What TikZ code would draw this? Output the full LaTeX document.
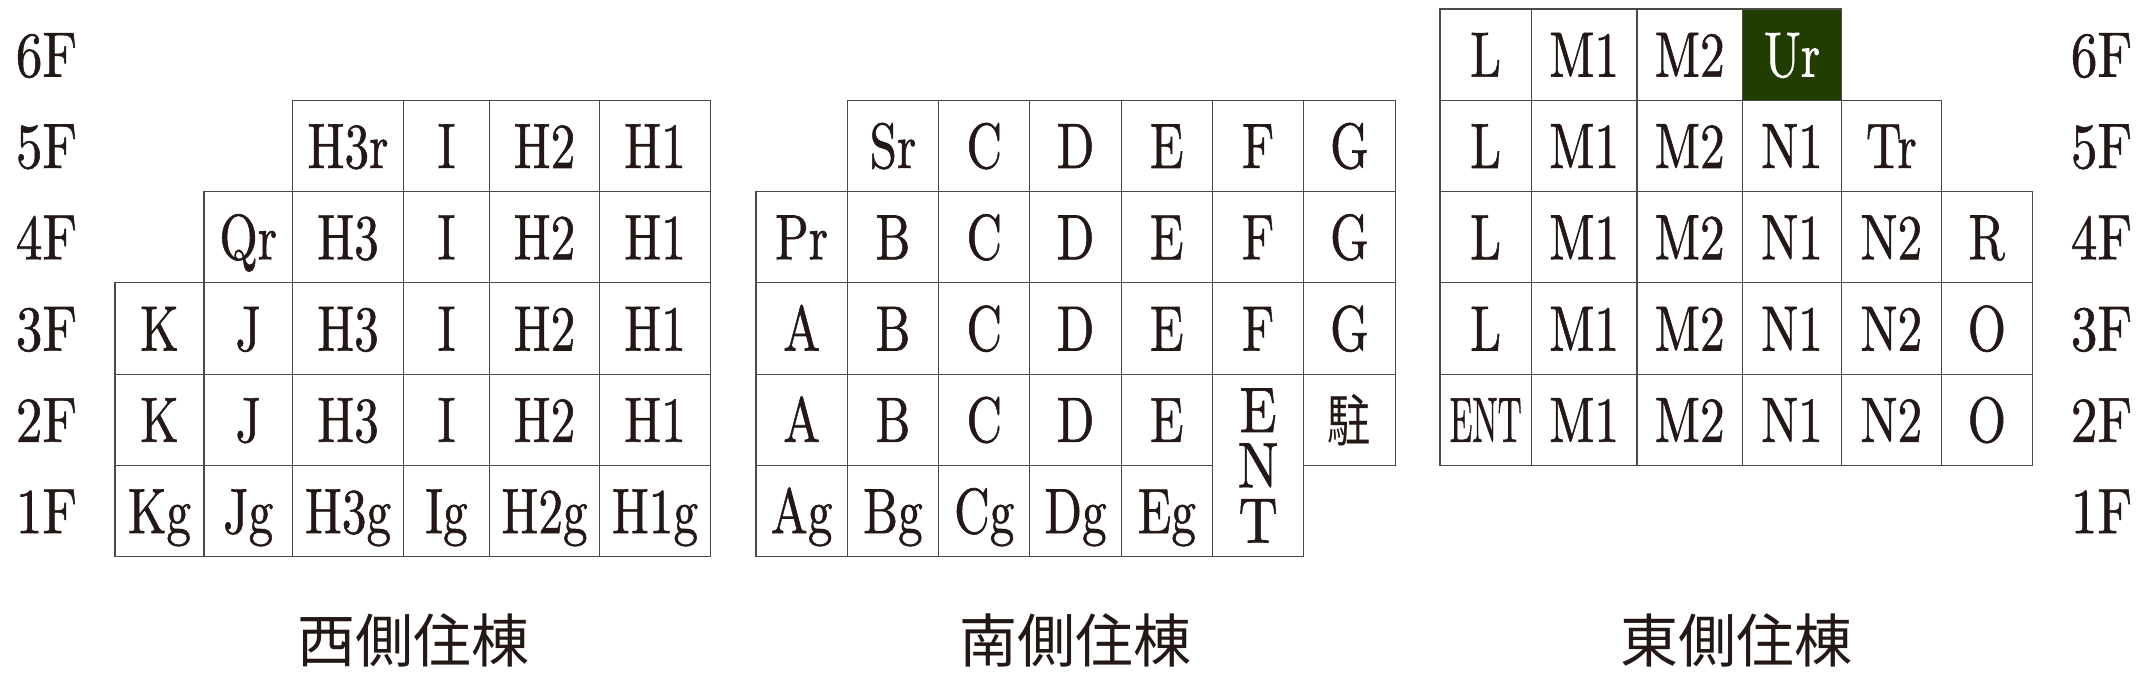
\documentclass[tikz,border=0pt]{standalone}
\usepackage{fontspec}
\newfontfamily\cjk{Noto Sans CJK JP}
\newfontfamily\cellfont{lmroman10-regular.otf}[FakeBold=1]
\usepackage{graphicx}
\definecolor{txt}{HTML}{231815}
\definecolor{linec}{HTML}{4A4A4A}
\definecolor{ugreen}{HTML}{223D00}
\tikzset{
 cellbox/.style={draw=linec, line width=0.55pt, rectangle, inner sep=0pt, minimum height=45.65pt, text height=30pt, text depth=8pt, text=txt, font=\cellfont\fontsize{32}{38}\selectfont},
 flabel/.style={inner sep=0pt, text height=30pt, text depth=8pt, text=txt, font=\cellfont\fontsize{32}{38}\selectfont},
 vlet/.style={inner sep=0pt, text=txt, font=\cellfont\fontsize{32}{38}\selectfont},
 ttl/.style={inner sep=0pt, text=txt, font=\cjk\fontsize{29}{32}\selectfont},
}
% #1 opts, #2 name, #3 x1, #4 x2, #5 ytop, #6 text
\newcommand\mycell[6][]{\node[cellbox,minimum width={(#4-#3)*0.5pt},#1] (#2) at ({(#3+#4)/2},{#5+45.65}) {\scalebox{0.77}[1]{#6}};}
\newcommand\vl[1]{\hbox to 26pt{\hss\scalebox{0.85}[1]{#1}\hss}}
\begin{document}
\begin{tikzpicture}[x=0.5pt,y=-0.5pt]
\useasboundingbox (0,0) rectangle (2148,676);
% ---------- West ----------
\mycell{w5a}{292.5}{403.5}{100.3}{H3r}
\mycell{w5b}{403.5}{489.5}{100.3}{I}
\mycell{w5c}{489.5}{599.5}{100.3}{H2}
\mycell{w5d}{599.5}{710.5}{100.3}{H1}
\mycell{w4q}{204}{292.5}{191.6}{Qr}
\mycell{w4a}{292.5}{403.5}{191.6}{H3}
\mycell{w4b}{403.5}{489.5}{191.6}{I}
\mycell{w4c}{489.5}{599.5}{191.6}{H2}
\mycell{w4d}{599.5}{710.5}{191.6}{H1}
\mycell{w3k}{115}{204}{282.9}{K}
\mycell{w3j}{204}{292.5}{282.9}{J}
\mycell{w3a}{292.5}{403.5}{282.9}{H3}
\mycell{w3b}{403.5}{489.5}{282.9}{I}
\mycell{w3c}{489.5}{599.5}{282.9}{H2}
\mycell{w3d}{599.5}{710.5}{282.9}{H1}
\mycell{w2k}{115}{204}{374.2}{K}
\mycell{w2j}{204}{292.5}{374.2}{J}
\mycell{w2a}{292.5}{403.5}{374.2}{H3}
\mycell{w2b}{403.5}{489.5}{374.2}{I}
\mycell{w2c}{489.5}{599.5}{374.2}{H2}
\mycell{w2d}{599.5}{710.5}{374.2}{H1}
\mycell{w1k}{115}{204}{465.5}{Kg}
\mycell{w1j}{204}{292.5}{465.5}{Jg}
\mycell{w1a}{292.5}{403.5}{465.5}{H3g}
\mycell{w1b}{403.5}{489.5}{465.5}{Ig}
\mycell{w1c}{489.5}{599.5}{465.5}{H2g}
\mycell{w1d}{599.5}{710.5}{465.5}{H1g}
% ---------- South ----------
\mycell{s5s}{847.3}{938.6}{100.3}{Sr}
\mycell{s5c}{938.6}{1029.9}{100.3}{C}
\mycell{s5d}{1029.9}{1121.2}{100.3}{D}
\mycell{s5e}{1121.2}{1212.5}{100.3}{E}
\mycell{s5f}{1212.5}{1303.8}{100.3}{F}
\mycell{s5g}{1303.8}{1395.1}{100.3}{G}
\mycell{s4p}{756}{847.3}{191.6}{Pr}
\mycell{s4b}{847.3}{938.6}{191.6}{B}
\mycell{s4c}{938.6}{1029.9}{191.6}{C}
\mycell{s4d}{1029.9}{1121.2}{191.6}{D}
\mycell{s4e}{1121.2}{1212.5}{191.6}{E}
\mycell{s4f}{1212.5}{1303.8}{191.6}{F}
\mycell{s4g}{1303.8}{1395.1}{191.6}{G}
\mycell{s3a}{756}{847.3}{282.9}{A}
\mycell{s3b}{847.3}{938.6}{282.9}{B}
\mycell{s3c}{938.6}{1029.9}{282.9}{C}
\mycell{s3d}{1029.9}{1121.2}{282.9}{D}
\mycell{s3e}{1121.2}{1212.5}{282.9}{E}
\mycell{s3f}{1212.5}{1303.8}{282.9}{F}
\mycell{s3g}{1303.8}{1395.1}{282.9}{G}
\mycell{s2a}{756}{847.3}{374.2}{A}
\mycell{s2b}{847.3}{938.6}{374.2}{B}
\mycell{s2c}{938.6}{1029.9}{374.2}{C}
\mycell{s2d}{1029.9}{1121.2}{374.2}{D}
\mycell{s2e}{1121.2}{1212.5}{374.2}{E}
\mycell{s2p}{1303.8}{1395.1}{374.2}{\cjk\fontsize{28}{30}\selectfont 駐}
\mycell{s1a}{756}{847.3}{465.5}{Ag}
\mycell{s1b}{847.3}{938.6}{465.5}{Bg}
\mycell{s1c}{938.6}{1029.9}{465.5}{Cg}
\mycell{s1d}{1029.9}{1121.2}{465.5}{Dg}
\mycell{s1e}{1121.2}{1212.5}{465.5}{Eg}
\node[cellbox,minimum width=45.65pt,minimum height=91.3pt] (sENT) at (1258.15,465.5) {};
\node[vlet] (sENTt) at (sENT.center) {\vbox{\baselineskip=27.65pt\lineskiplimit=-100pt \vl{E}\vl{N}\vl{T}}};
% ---------- East ----------
\mycell{e6l}{1440}{1531.5}{9}{L}
\mycell{e6m}{1531.5}{1637}{9}{M1}
\mycell{e6n}{1637}{1742.5}{9}{M2}
\mycell[fill=ugreen,text=white]{e6u}{1742.5}{1841.5}{9}{Ur}
\mycell{e5l}{1440}{1531.5}{100.3}{L}
\mycell{e5m}{1531.5}{1637}{100.3}{M1}
\mycell{e5n}{1637}{1742.5}{100.3}{M2}
\mycell{e5o}{1742.5}{1841.5}{100.3}{N1}
\mycell{e5t}{1841.5}{1941.2}{100.3}{Tr}
\mycell{e4l}{1440}{1531.5}{191.6}{L}
\mycell{e4m}{1531.5}{1637}{191.6}{M1}
\mycell{e4n}{1637}{1742.5}{191.6}{M2}
\mycell{e4o}{1742.5}{1841.5}{191.6}{N1}
\mycell{e4t}{1841.5}{1941.2}{191.6}{N2}
\mycell{e4r}{1941.2}{2032.5}{191.6}{R}
\mycell{e3l}{1440}{1531.5}{282.9}{L}
\mycell{e3m}{1531.5}{1637}{282.9}{M1}
\mycell{e3n}{1637}{1742.5}{282.9}{M2}
\mycell{e3o}{1742.5}{1841.5}{282.9}{N1}
\mycell{e3t}{1841.5}{1941.2}{282.9}{N2}
\mycell{e3r}{1941.2}{2032.5}{282.9}{O}
\mycell{e2l}{1440}{1531.5}{374.2}{\scalebox{0.68}[1]{ENT}}
\mycell{e2m}{1531.5}{1637}{374.2}{M1}
\mycell{e2n}{1637}{1742.5}{374.2}{M2}
\mycell{e2o}{1742.5}{1841.5}{374.2}{N1}
\mycell{e2t}{1841.5}{1941.2}{374.2}{N2}
\mycell{e2r}{1941.2}{2032.5}{374.2}{O}
% ---------- Floor labels ----------
\node[flabel] (L6) at (46.5,54.65) {\scalebox{0.83}[1]{6F}};
\node[flabel] (L5) at (46.5,145.95) {\scalebox{0.83}[1]{5F}};
\node[flabel] (L4) at (46.5,237.25) {\scalebox{0.83}[1]{4F}};
\node[flabel] (L3) at (46.5,328.55) {\scalebox{0.83}[1]{3F}};
\node[flabel] (L2) at (46.5,419.85) {\scalebox{0.83}[1]{2F}};
\node[flabel] (L1) at (46.5,511.15) {\scalebox{0.83}[1]{1F}};
\node[flabel] (R6) at (2101.5,54.65) {\scalebox{0.83}[1]{6F}};
\node[flabel] (R5) at (2101.5,145.95) {\scalebox{0.83}[1]{5F}};
\node[flabel] (R4) at (2101.5,237.25) {\scalebox{0.83}[1]{4F}};
\node[flabel] (R3) at (2101.5,328.55) {\scalebox{0.83}[1]{3F}};
\node[flabel] (R2) at (2101.5,419.85) {\scalebox{0.83}[1]{2F}};
\node[flabel] (R1) at (2101.5,511.15) {\scalebox{0.83}[1]{1F}};
% ---------- Titles ----------
\node[ttl] (tw) at (413,640) {西側住棟};
\node[ttl] (ts) at (1075.5,640) {南側住棟};
\node[ttl] (te) at (1736.5,640) {東側住棟};
\end{tikzpicture}
\end{document}
